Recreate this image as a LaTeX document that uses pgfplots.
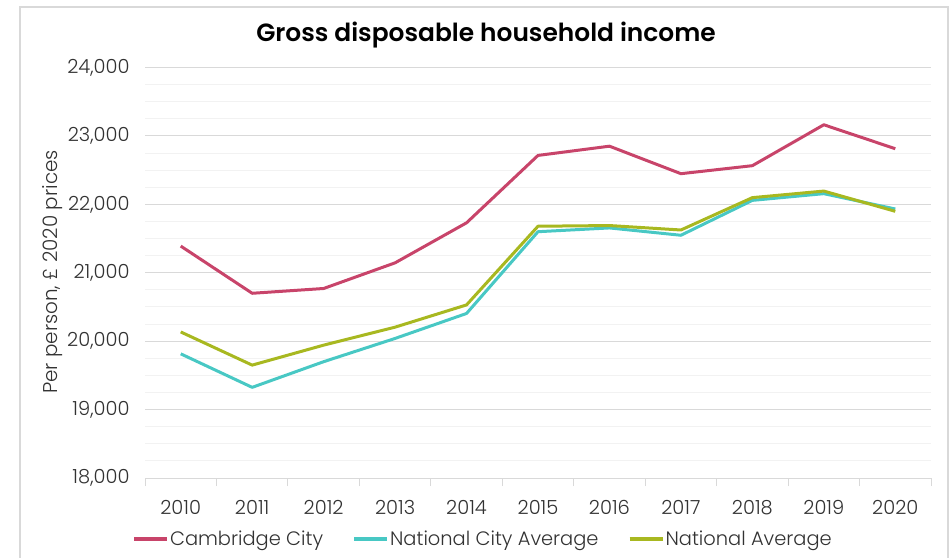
\documentclass[border=0pt]{standalone}
\usepackage{fontspec}
\setmainfont{Poppins}[UprightFont=* Light, BoldFont=* SemiBold]
\usepackage{pgfplots}
\pgfplotsset{compat=1.18}
\definecolor{cam}{RGB}{200,68,106}
\definecolor{nca}{RGB}{72,200,196}
\definecolor{nav}{RGB}{168,184,32}
\definecolor{gridmaj}{RGB}{217,217,217}
\definecolor{gridmin}{RGB}{242,242,242}
\definecolor{txt}{RGB}{50,50,50}
\begin{document}
\begin{tikzpicture}[x=1bp,y=1bp]
\path[use as bounding box] (0,0) rectangle (950,-558);
\draw[gridmaj, line width=1.5bp] (20,-560) -- (20,-7) -- (948,-7) -- (948,-560);
\node[anchor=base, font=\fontsize{25}{29}\selectfont\bfseries] at (486,-42) {Gross disposable household income};
\node[rotate=90, anchor=base, font=\fontsize{20}{23}\selectfont, text=txt] at (57,-272) {Per person, £ 2020 prices};
\begin{axis}[
  at={(145bp,-478bp)}, anchor=south west,
  scale only axis, width=786bp, height=410.5bp,
  xmin=-0.5, xmax=10.5, ymin=18000, ymax=24000,
  axis x line=bottom, axis y line=left,
  x axis line style={-, gridmaj, line width=1bp},
  y axis line style={draw=none},
  xtick={0,...,10},
  xticklabels={2010,2011,2012,2013,2014,2015,2016,2017,2018,2019,2020},
  minor xtick={-0.5,0.5,...,10.5},
  major x tick style={draw=none},
  minor x tick style={gridmaj, line width=1bp},
  tick align=outside, minor tick length=8bp,
  ytick distance=1000, minor y tick num=3,
  ymajorgrids, yminorgrids,
  major grid style={gridmaj, line width=1bp},
  minor grid style={gridmin, line width=1bp},
  major y tick style={draw=none}, minor y tick style={draw=none},
  scaled y ticks=false,
  yticklabel style={/pgf/number format/fixed, /pgf/number format/1000 sep={,}, /pgf/number format/assume math mode=true},
  ticklabel style={font=\fontsize{19.5}{22}\selectfont, text=txt},
  yticklabel style={anchor=east, inner sep=0pt, xshift=-11bp},
  xticklabel style={anchor=base, inner sep=0pt, yshift=-32bp},
  legend columns=3,
  legend style={at={(axis description cs:-0.0165,-0.1486)}, anchor=west, draw=none, fill=none, inner sep=0pt, outer sep=0pt,
    font=\fontsize{19.5}{22}\selectfont, text=txt,
    nodes={inner xsep=1bp},
    /tikz/every even column/.append style={column sep=28bp}},
  legend image code/.code={\draw[#1, line width=4bp] (0bp,0bp) -- (33bp,0bp);},
  every axis plot/.append style={line width=3bp, line join=round},
]
\addplot[cam] coordinates {(0,21390) (1,20700) (2,20770) (3,21145) (4,21730) (5,22715) (6,22850) (7,22448) (8,22565) (9,23163) (10,22813)};
\addlegendentry{Cambridge City}
\addplot[nca] coordinates {(0,19815) (1,19325) (2,19700) (3,20040) (4,20405) (5,21600) (6,21655) (7,21548) (8,22058) (9,22156) (10,21932)};
\addlegendentry{National City Average}
\addplot[nav] coordinates {(0,20135) (1,19650) (2,19942) (3,20205) (4,20530) (5,21680) (6,21690) (7,21625) (8,22098) (9,22194) (10,21898)};
\addlegendentry{National Average}
\end{axis}
\end{tikzpicture}
\end{document}
